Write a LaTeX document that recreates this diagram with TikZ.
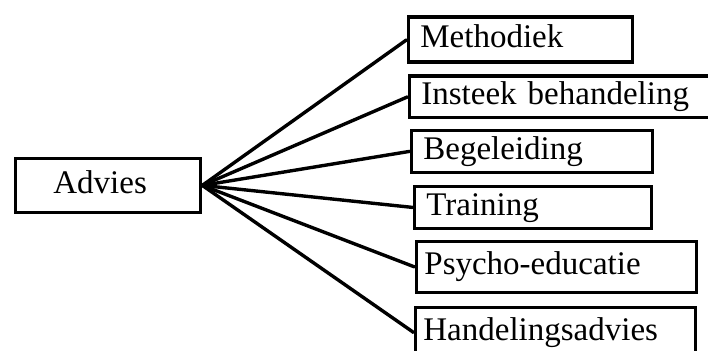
\documentclass[tikz,border=0pt]{standalone}
\usepackage{fontspec}
\setmainfont{Liberation Serif}
\usepackage{tikz}

\begin{document}
\begin{tikzpicture}[x=1pt,y=-1pt,
        box/.style={draw, line width=3.8pt, anchor=north west, align=left,
            inner xsep=12pt, inner ysep=0pt, text height=22pt, text depth=6pt,
            font=\fontsize{33}{36}\selectfont},
        spoke/.style={line width=3.4pt, line cap=round}]
            \useasboundingbox (0,0) rectangle (708,350);

            % the root box
            \node[box, inner xsep=38pt, text width=109pt, minimum height=54pt] (advies) at (13.5,156.5) {Advies};

            % the advice boxes
            \node[box, text width=200pt, minimum height=45pt] (methodiek) at (406.5,15.5) {Methodiek};
            \node[box, text width=296pt, minimum height=41pt] (insteek) at (407.5,74.5) {Insteek behandeling};
            \node[box, text width=217pt, minimum height=42pt] (begeleiding) at (409.5,128.5) {Begeleiding};
            \node[box, text width=213pt, minimum height=42pt] (training) at (412.5,184.5) {Training};
            \node[box, inner xsep=8pt, text width=264pt, minimum height=51pt] (psycho) at (414.5,239.5) {Psycho-educatie};
            \node[box, inner xsep=8pt, text width=264pt, minimum height=50pt] (handeling) at (413.5,305.5) {Handelingsadvies};

            % the fan of lines
            \draw[spoke] (advies.east) -- (methodiek.west);
            \draw[spoke] (advies.east) -- (insteek.west);
            \draw[spoke] (advies.east) -- (begeleiding.west);
            \draw[spoke] (advies.east) -- (training.west);
            \draw[spoke] (advies.east) -- (psycho.west);
            \draw[spoke] (advies.east) -- (handeling.west);

        \end{tikzpicture}
\end{document}
